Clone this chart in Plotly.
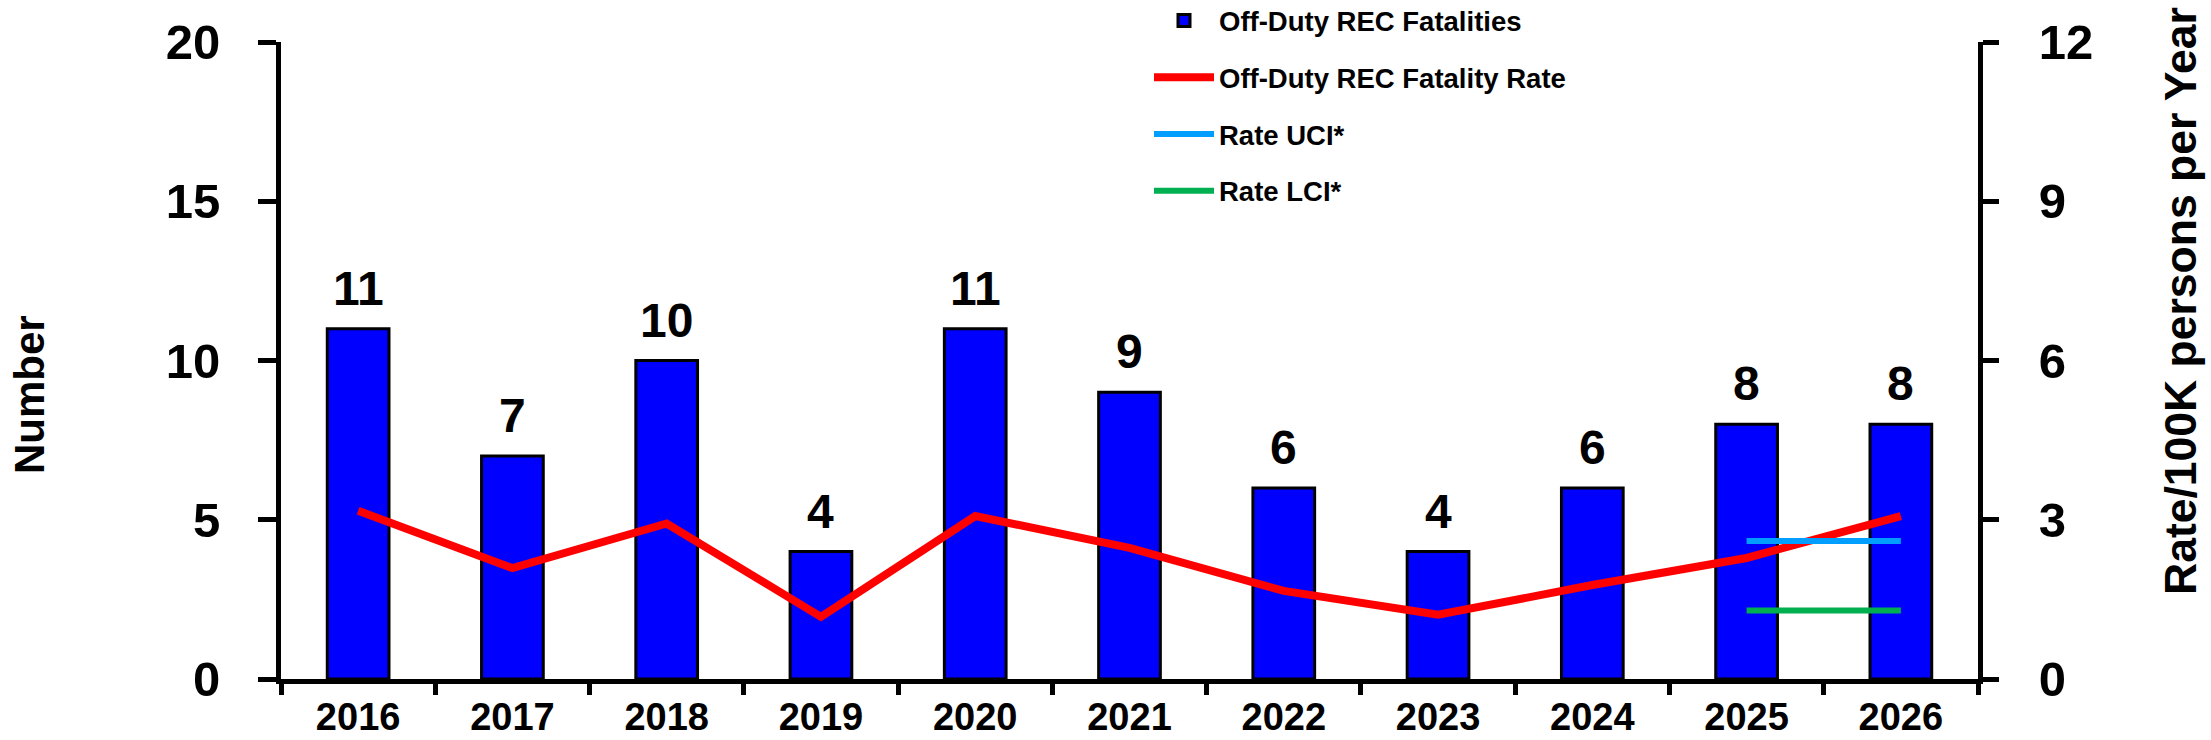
import plotly.graph_objects as go

# ---- data ----
years = ["2016", "2017", "2018", "2019", "2020", "2021", "2022", "2023", "2024", "2025", "2026"]
fatalities = [11, 7, 10, 4, 11, 9, 6, 4, 6, 8, 8]
fatality_rate = [3.17, 2.09, 2.93, 1.17, 3.07, 2.47, 1.66, 1.21, 1.77, 2.28, 3.07]
ci_years = ["2025", "2026"]
rate_uci = [2.6, 2.6]
rate_lci = [1.29, 1.29]
left_ticks = [0, 5, 10, 15, 20]
right_ticks = [0, 3, 6, 9, 12]

W, H = 2211, 740
ML, MT = 281, 42
MR = W - 1978
MB = H - 679
PW, PH = W - ML - MR, H - MT - MB
FONT = "Liberation Sans, Arial, sans-serif"


def px_x(page_x):
    return (page_x - ML) / PW


def px_y(page_y):
    return (H - MB - page_y) / PH


fig = go.Figure()

fig.add_trace(go.Bar(
    x=years, y=fatalities, name="Off-Duty REC Fatalities",
    marker=dict(color="#0000FF", line=dict(color="black", width=3)),
    width=0.4, legendgroup="a", xaxis="x", yaxis="y",
))
fig.add_trace(go.Scatter(
    x=years, y=fatality_rate, name="Off-Duty REC Fatality Rate", mode="lines",
    line=dict(color="#FF0000", width=8), legendgroup="b", xaxis="x", yaxis="y2",
))
fig.add_trace(go.Scatter(
    x=ci_years, y=rate_uci, name="Rate UCI*", mode="lines",
    line=dict(color="#009EFF", width=6), legendgroup="c", xaxis="x", yaxis="y2",
))
fig.add_trace(go.Scatter(
    x=ci_years, y=rate_lci, name="Rate LCI*", mode="lines",
    line=dict(color="#00B050", width=6), legendgroup="d", xaxis="x", yaxis="y2",
))

# value labels above bars (x given as category index on the category axis)
for i, v in enumerate(fatalities):
    fig.add_annotation(x=i, y=v, xref="x", yref="y", text=str(v), showarrow=False,
                       xanchor="center", yanchor="bottom", yshift=12,
                       font=dict(family=FONT, size=48, color="black", weight="bold"))

# axis titles
fig.add_annotation(x=px_x(29), y=px_y(395), xref="paper", yref="paper",
                   text="Number", textangle=-90, showarrow=False,
                   xanchor="center", yanchor="middle",
                   font=dict(family=FONT, size=42, color="black", weight="bold"))
fig.add_annotation(x=px_x(2180), y=px_y(301), xref="paper", yref="paper",
                   text="Rate/100K persons per Year", textangle=-90, showarrow=False,
                   xanchor="center", yanchor="middle",
                   font=dict(family=FONT, size=44.5, color="black", weight="bold"))

tickfont_big = dict(family=FONT, size=49, color="black", weight="bold")
boundaries = [i - 0.5 for i in range(len(years) + 1)]

fig.update_layout(
    width=W, height=H,
    margin=dict(l=ML, r=MR, t=MT, b=MB, pad=0, autoexpand=False),
    plot_bgcolor="white", paper_bgcolor="white",
    showlegend=True,
    legend=dict(
        x=px_x(1149), y=px_y(-4), xanchor="left", yanchor="top",
        font=dict(family=FONT, size=27.5, color="black", weight="bold"),
        tracegroupgap=18, itemwidth=60, bgcolor="rgba(0,0,0,0)",
        traceorder="grouped",
    ),
    xaxis=dict(
        type="category", categoryorder="array", categoryarray=years,
        range=[-0.5, len(years) - 0.5], automargin=False,
        showline=True, linecolor="black", linewidth=5,
        ticks="outside", ticklen=11, tickwidth=5, tickcolor="black",
        tickson="boundaries", ticklabelstandoff=0,
        tickfont=dict(family=FONT, size=38, color="black", weight="bold"),
        showgrid=False, zeroline=False,
    ),
    xaxis2=dict(
        overlaying="x", anchor="y", range=[-0.5, len(years) - 0.5], automargin=False,
        tickmode="array", tickvals=boundaries, showticklabels=False,
        ticks="inside", ticklen=13, tickwidth=5, tickcolor="black",
        showline=False, showgrid=False, zeroline=False,
    ),
    yaxis=dict(
        range=[0, 20], tickmode="array", tickvals=left_ticks, automargin=False,
        showline=True, linecolor="black", linewidth=5,
        ticks="outside", ticklen=18, tickwidth=5, tickcolor="black",
        ticklabelstandoff=28, tickfont=tickfont_big,
        showgrid=False, zeroline=False,
    ),
    yaxis3=dict(
        overlaying="y", side="left", anchor="x", range=[0, 20], automargin=False,
        tickmode="array", tickvals=left_ticks, showticklabels=False,
        ticks="inside", ticklen=17, tickwidth=5, tickcolor="black",
        showline=False, showgrid=False, zeroline=False,
    ),
    yaxis2=dict(
        overlaying="y", side="right", anchor="x", range=[0, 12], automargin=False,
        tickmode="array", tickvals=right_ticks,
        showline=True, linecolor="black", linewidth=5,
        ticks="outside", ticklen=16, tickwidth=5, tickcolor="black",
        ticklabelstandoff=30, tickfont=tickfont_big,
        showgrid=False, zeroline=False,
    ),
    yaxis4=dict(
        overlaying="y", side="right", anchor="x", range=[0, 12], automargin=False,
        tickmode="array", tickvals=right_ticks, showticklabels=False,
        ticks="inside", ticklen=16, tickwidth=5, tickcolor="black",
        showline=False, showgrid=False, zeroline=False,
    ),
)

fig.write_html(
    "out.html",
    config={"displayModeBar": False},
    post_script="document.body.style.margin='0px';document.body.style.overflow='hidden';",
)
